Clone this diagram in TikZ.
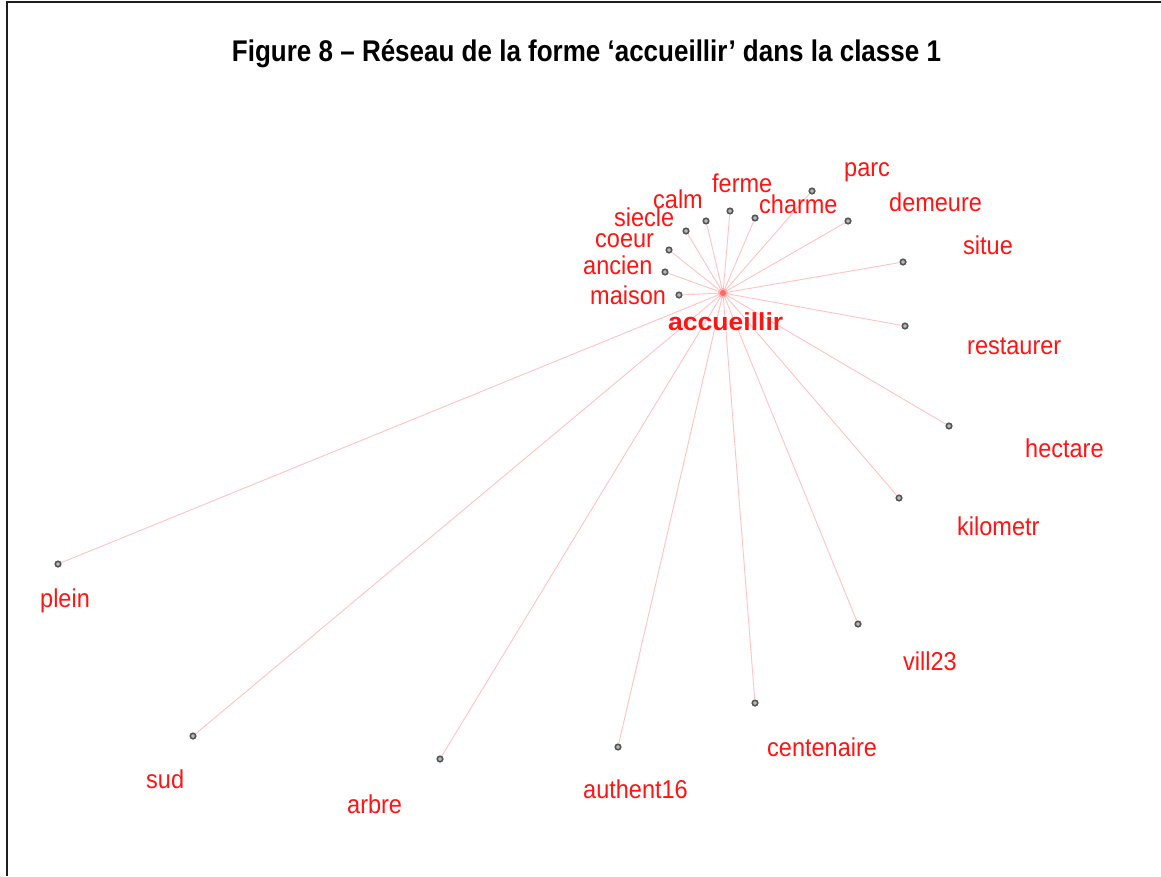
\documentclass[tikz,border=0pt]{standalone}
\usepackage{fontspec}
\usepackage{graphicx}
\setmainfont{Liberation Sans}
\definecolor{edgepink}{RGB}{255,195,195}
\definecolor{labelred}{RGB}{255,20,20}
\definecolor{dotgray}{RGB}{85,85,85}
\definecolor{framegray}{RGB}{30,30,30}
\newcommand{\tallword}[1]{\scalebox{1}[1.1]{#1}}
\begin{document}
\begin{tikzpicture}[x=1pt,y=-1pt,
  word/.style={anchor=base west,inner sep=0pt,text=labelred,font=\fontsize{23.5}{26}\selectfont},
  term/.style={circle,draw=dotgray,fill=gray!55,line width=1.1pt,inner sep=0pt,minimum size=6pt},
  hub/.style={circle,fill=red!55,inner sep=0pt,minimum size=9pt},
  link/.style={draw=edgepink,line width=0.9pt}]
\useasboundingbox (0,0) rectangle (1161,876);
\fill[white] (0,0) rectangle (1161,876);
% frame: top rule and left rule
\coordinate (fl) at (7,2);
\coordinate (fr) at (1161,2);
\coordinate (fb) at (7,876);
\draw[framegray,line width=2pt] (fr) -- (fl) -- (fb);
% title
\node[anchor=base,inner sep=0pt] (title) at (586.5,61)
  {\resizebox{709pt}{1.15\height}{\fontsize{26}{30}\selectfont\bfseries Figure 8 – Réseau de la forme ‘accueillir’ dans la classe 1}};
% hub
\node[hub] (c) at (723,293) {};
% terminal points
\foreach \n/\x/\y in {maison/679/295,ancien/665/272,coeur/669/250,siecle/686/231,
  calm/706/221,ferme/730/211,charme/755/218,parc/812/191,demeure/848/221,
  situe/903/262,restaurer/905/326,hectare/949/426,kilometr/899/498,
  vill23/858/624,centenaire/755/703,authent16/618/747,arbre/440/759,
  sud/193/736,plein/58/564}{
  \node[term] (d-\n) at (\x,\y) {};
}
% connectors from the hub to every point
\foreach \n in {maison,ancien,coeur,siecle,calm,ferme,charme,parc,demeure,
  situe,restaurer,hectare,kilometr,vill23,centenaire,authent16,arbre,sud,plein}{
  \path[link] (c.center) -- (d-\n);
}
% redraw points and hub above the connectors
\foreach \n/\x/\y in {maison/679/295,ancien/665/272,coeur/669/250,siecle/686/231,
  calm/706/221,ferme/730/211,charme/755/218,parc/812/191,demeure/848/221,
  situe/903/262,restaurer/905/326,hectare/949/426,kilometr/899/498,
  vill23/858/624,centenaire/755/703,authent16/618/747,arbre/440/759,
  sud/193/736,plein/58/564}{
  \fill[gray!55] (\x,\y) circle (2.4pt);
  \draw[dotgray,line width=1.1pt] (\x,\y) circle (2.5pt);
}
\fill[red!30] (c.center) circle (5pt);
\fill[red!60] (c.center) circle (3pt);
% labels
\foreach \n/\x/\y in {maison/590/304,ancien/583/274,coeur/595/247,siecle/614/226,
  calm/653/208,ferme/712/192,charme/759/213,parc/844/176,demeure/889/211,
  situe/963/254,restaurer/967/354,hectare/1025/457,kilometr/957/535,
  vill23/903/670,centenaire/767/756,authent16/583/798,arbre/347/813,
  sud/146/788,plein/40/607}{
  \node[word] (l-\n) at (\x,\y) {\tallword{\n}};
}
\node[word] (l-accueillir) at (668,330)
  {\resizebox{115pt}{1.05\height}{\bfseries accueillir}};
\end{tikzpicture}
\end{document}
